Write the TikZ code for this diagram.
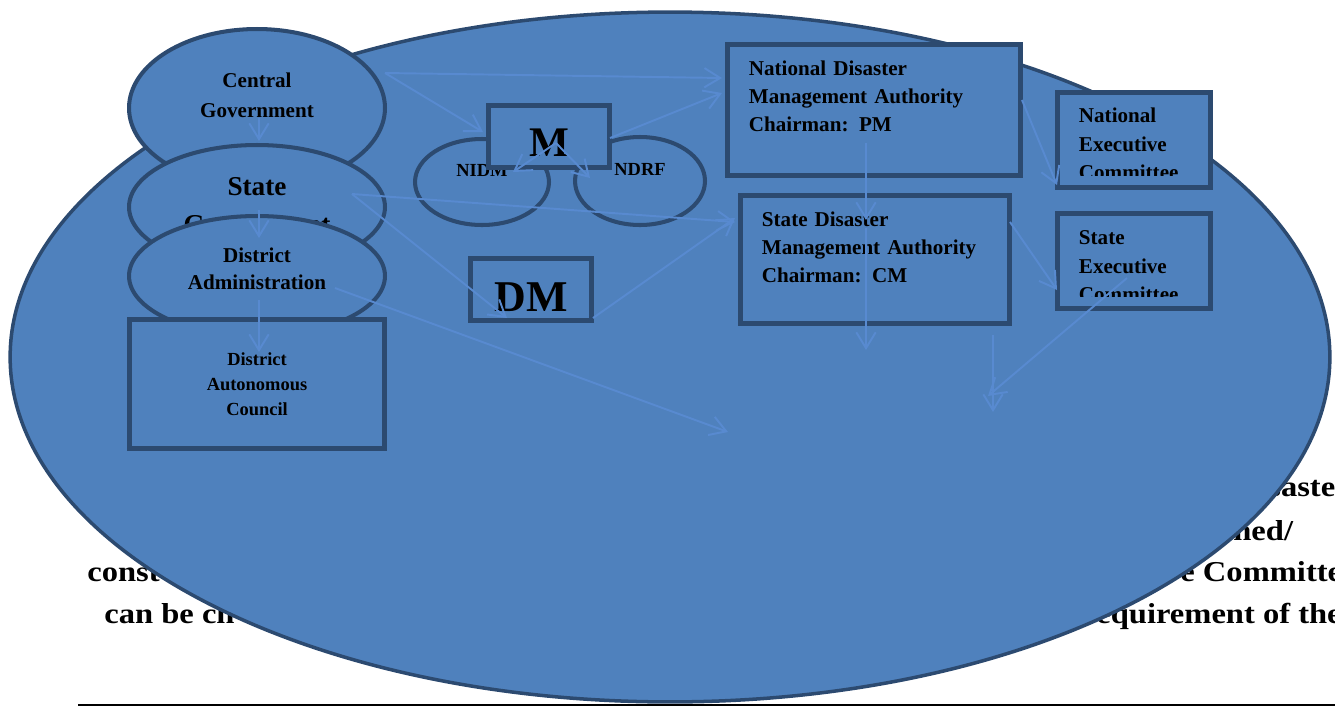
\documentclass[tikz,border=0pt]{standalone}
\usepackage{fontspec}
\setmainfont{Liberation Serif}
\usepackage{graphicx}
\usepackage{tikz}
\usetikzlibrary{shapes.geometric,arrows.meta,positioning}
\definecolor{ofblue}{RGB}{79,129,189}
\definecolor{ofedge}{RGB}{44,74,112}
\definecolor{oflink}{RGB}{88,138,208}
\newcommand{\fs}[2]{\fontsize{#1}{#2}\selectfont\bfseries}
\newcommand{\wide}[1]{\scalebox{1.13}[1]{#1}}

\begin{document}
\begin{tikzpicture}[x=0.02cm,y=-0.02cm,
    ell/.style={ellipse,draw=ofedge,line width=2.3pt,fill=ofblue,inner sep=1pt,align=center},
    bx/.style={rectangle,draw=ofedge,line width=2.8pt,fill=ofblue,inner sep=0pt,align=center},
    tb/.style={rectangle,draw=ofedge,line width=2.8pt,fill=ofblue,inner ysep=0pt,inner xsep=0.43cm,
               align=left,anchor=north west,font=\fs{12}{15.8}},
    lnk/.style={draw=oflink,line width=1.1pt,-{Straight Barb[length=9pt,width=11pt]}},
    frag/.style={anchor=base west,inner sep=0pt,font=\fs{16.4}{24}}]
\useasboundingbox (0,0) rectangle (1335,707);

% text of the page behind the drawing
\node[frag] (f1) at (1268,496) {\wide{saste}};
\node[frag] (f2) at (1233,540) {\wide{ned/}};
\node[frag] (f3) at (87,581) {\wide{const}};
\node[frag] (f4) at (1180,581) {\wide{e Committe}};
\node[frag] (f5) at (104,623) {\wide{can be ch}};
\node[frag] (f6) at (1096,623) {\wide{equirement of the}};
\draw[line width=1pt] (78,705) -- (1335,705);

\node[ell,line width=2pt,minimum width=26.4cm,minimum height=13.8cm] (big) at (670,357) {};

\node[ell,minimum width=5.12cm,minimum height=3.16cm,text depth=15pt,
      font=\fs{12}{17}] (cg) at (257,108) {Central\\Government};
\node[ell,minimum width=5.12cm,minimum height=2.48cm,text depth=1.4pt,
      font=\fs{15.5}{21.6}] (sg) at (257,207) {State\\Government};
\node[ell,minimum width=5.12cm,minimum height=2.4cm,text depth=8.7pt,
      font=\fs{12}{15.4}] (da) at (257,276) {District\\Administration};
\node[bx,minimum width=5.1cm,minimum height=2.58cm,font=\fs{10.5}{14.2}] (dac) at (257,384)
      {District\\Autonomous\\Council};

\node[ell,minimum width=2.68cm,minimum height=1.72cm,text height=7pt,text depth=13.8pt,
      font=\fs{10.5}{13}] (nidm) at (482,182) {NIDM};
\node[ell,minimum width=2.6cm,minimum height=1.76cm,text height=7pt,text depth=13.8pt,
      font=\fs{10.5}{13}] (ndrf) at (640,181) {NDRF};
\node[bx,minimum width=2.42cm,minimum height=1.24cm,text height=23.3pt,text depth=0pt,
      font=\fs{24}{28}] (m) at (549,136.5) {M};
\node[bx,minimum width=2.42cm,minimum height=1.24cm,text height=25.6pt,text depth=0pt,
      font=\fs{25}{29}] (dm) at (531,289.5) {DM};

\node[tb,text width=5cm,text height=0.63cm,text depth=1.99cm] (ndma) at (725,42)
      {National Disaster\\Management Authority\\Chairman: PM};
\node[tb,text width=4.52cm,text height=0.63cm,text depth=1.93cm] (sdma) at (738,193)
      {State Disaster\\Management Authority\\Chairman: CM};
\node[tb,text width=2.2cm,text height=0.61cm,text depth=1.29cm,font=\fs{12}{16.2}] (nec) at (1055,90)
      {National\\Executive\\Committee};
\node[tb,text width=2.2cm,text height=0.63cm,text depth=1.27cm,font=\fs{12}{16}] (sec) at (1055,211)
      {State\\Executive\\Committee};
% last lines run out of the two boxes
\fill[ofblue] (1060,176) rectangle (1208,183);
\fill[ofblue] (1060,297) rectangle (1208,304);

\foreach \n/\x/\y in {cg1/259/118, sg1/259/141, sg2/259/210, da1/259/238, da2/259/300, dac1/259/352,
    cg2/385/73, ndma1/722/78, m1/483/132, m2/610/138, ndma2/722/93, m3/556/143, nidm1/513/172,
    ndrf1/590/178, sg3/352/194, sdma1/735/222, dm1/507/318, dm2/593/318, sdma2/735/218,
    da3/335/288, lo1/728/432, ndma3/866/143, sdma3/866/220, sdma4/866/228, lo2/866/350,
    ndma4/1022/100, nec1/1057/185, sdma5/1010/222, sec1/1057/290, sec2/1127/278, lo3/988/396,
    sdma6/993/335, lo4/993/412}
  \coordinate (\n) at (\x,\y);

\foreach \s/\t in {cg1/sg1, sg2/da1, da2/dac1, cg2/ndma1, cg2/m1, m2/ndma2, m3/nidm1, m3/ndrf1,
    sg3/sdma1, sg3/dm1, dm2/sdma2, da3/lo1, ndma3/sdma3, sdma4/lo2, ndma4/nec1, sdma5/sec1,
    sec2/lo3, sdma6/lo4}
  \draw[lnk] (\s) -- (\t);
\end{tikzpicture}
\end{document}
